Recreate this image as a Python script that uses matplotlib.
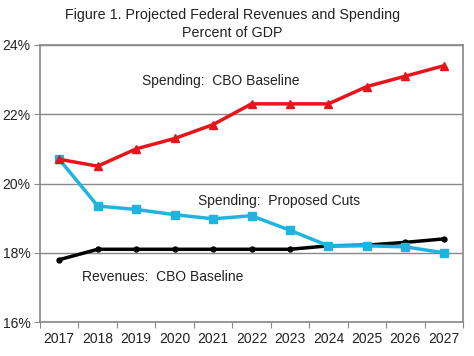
import matplotlib as mpl
mpl.use('Agg')
import matplotlib.pyplot as plt
import numpy as np

plt.rcParams['font.family'] = ['Liberation Sans', 'DejaVu Sans']

years = ['2017', '2018', '2019', '2020', '2021', '2022', '2023', '2024', '2025', '2026', '2027']
spending_cbo = [20.7, 20.5, 21.0, 21.3, 21.7, 22.3, 22.3, 22.3, 22.8, 23.1, 23.4]
spending_cuts = [20.7, 19.35, 19.25, 19.1, 18.98, 19.07, 18.65, 18.2, 18.2, 18.17, 18.0]
revenues_cbo = [17.8, 18.1, 18.1, 18.1, 18.1, 18.1, 18.1, 18.2, 18.22, 18.3, 18.4]

x = np.arange(len(years)) + 0.5

fig = plt.figure(figsize=(4.74, 3.56), dpi=100)
ax = fig.add_axes([40 / 474, 1 - 322 / 356, 423 / 474, 277 / 356])

ax.set_xlim(0, len(years))
ax.set_ylim(16, 24)
ax.set_yticks([16, 18, 20, 22, 24])
ax.set_yticklabels(['16%', '18%', '20%', '22%', '24%'])
ax.set_xticks(np.arange(len(years) + 1))
ax.set_xticklabels([])
ax.set_xticks(x, minor=True)
ax.set_xticklabels(years, minor=True)
ax.tick_params(axis='x', which='minor', length=0, pad=7, labelsize=10, labelcolor='#222222')
ax.tick_params(axis='x', which='major', length=4, color='#888888')
ax.tick_params(axis='y', length=4, color='#888888', labelsize=10, pad=3, labelcolor='#222222')

ax.grid(axis='y', color='#888888', lw=1)
ax.set_axisbelow(True)
for s in ax.spines.values():
    s.set_color('#888888')
    s.set_linewidth(1.2)

ax.plot(x, revenues_cbo, color='black', lw=2.5, marker='o', ms=3.5)
ax.plot(x, spending_cuts, color='#1fb4e0', lw=2.5, marker='s', ms=6)
ax.plot(x, spending_cbo, color='#e8141c', lw=2.5, marker='^', ms=6)

ax.text(2.65, 22.95, 'Spending:  CBO Baseline', fontsize=10, va='center', color='#222222')
ax.text(4.1, 19.5, 'Spending:  Proposed Cuts', fontsize=10, va='center', color='#222222')
ax.text(1.1, 17.3, 'Revenues:  CBO Baseline', fontsize=10, va='center', color='#222222')

fig.text(0.49, 1 - 15 / 356, 'Figure 1. Projected Federal Revenues and Spending',
         ha='center', va='center', fontsize=10.3, color='#222222')
fig.text(0.49, 1 - 33 / 356, 'Percent of GDP', ha='center', va='center',
         fontsize=10.3, color='#222222')

plt.savefig('out.png', dpi=100)
